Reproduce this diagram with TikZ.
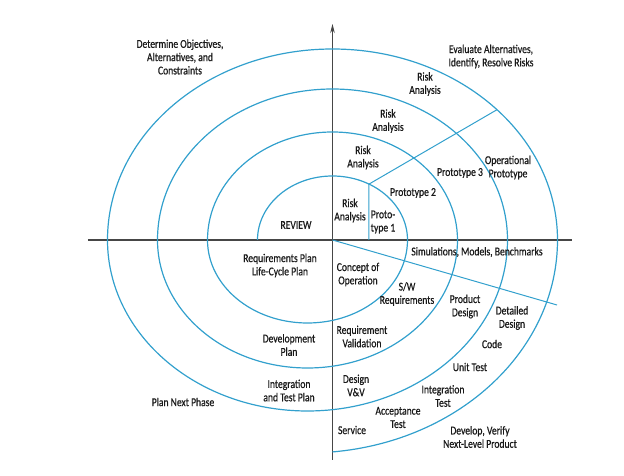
\documentclass[tikz,border=0pt]{standalone}
\usepackage{fontspec}
\setmainfont[FakeStretch=0.8,FakeBold=0.6]{Carlito}
\usetikzlibrary{arrows.meta}
\definecolor{spiralblue}{RGB}{50,160,205}
\definecolor{axisgray}{RGB}{70,70,70}
\definecolor{textgray}{RGB}{25,25,25}
\tikzset{
  spiral/.style={line width=1.2pt, color=spiralblue},
  axisline/.style={line width=1.4pt, color=axisgray},
  lbl/.style={align=center, inner sep=0pt, text=textgray, font=\fontsize{12}{13.3}\selectfont}
}
\begin{document}
\begin{tikzpicture}[x=1pt,y=1pt]
		%%%%% START %%%%%
		\useasboundingbox (-332.5,-236) rectangle (291.5,240);
		
		\coordinate (O) at (0,0);
		\coordinate (xl) at (-244.5,0);
		\coordinate (xr) at (239.5,0);
		\coordinate (yb) at (0,-220);
		\coordinate (yt) at (0,216);
		
		\draw[axisline] (xl) -- (xr);
		\draw[line width=0.8pt, color=axisgray, -{Stealth[length=9pt,width=4.5pt]}] (yb) -- (yt);
		
		% the spiral
		\draw[spiral] (-75,0) arc[start angle=180, end angle=0, x radius=75, y radius=64]
		  arc[start angle=0, end angle=-180, x radius=100, y radius=83]
		  arc[start angle=180, end angle=0, x radius=125, y radius=108]
		  arc[start angle=0, end angle=-180, x radius=150, y radius=128]
		  arc[start angle=180, end angle=0, x radius=175, y radius=151]
		  arc[start angle=0, end angle=-180, x radius=200, y radius=171]
		  arc[start angle=180, end angle=0, x radius=225, y radius=191]
		  arc[start angle=0, end angle=-84.26, x radius=250, y radius=213];
		
		\coordinate (p0) at (36.5,0);
		\coordinate (p1) at (36.5,55.9);
		\coordinate (p2) at (164.5,130.3);
		\coordinate (q1) at (224.5,-65);
		
		\draw[spiral, line width=1pt] (p0) -- (p1) -- (p2);
		\draw[spiral, line width=1pt] (O) -- (q1);
		
		% quadrant labels
		\node[lbl] (obj) at (-152.5,183) {Determine Objectives,\\Alternatives, and\\Constraints};
		\node[lbl] (eval) at (158.5,183.5) {Evaluate Alternatives,\\Identify, Resolve Risks};
		\node[lbl] (next) at (-149.5,-162) {Plan Next Phase};
		\node[lbl] (develop) at (147.5,-197) {Develop, Verify\\Next-Level Product};
		
		% risk analysis
		\node[lbl] (ra4) at (92.5,156) {Risk\\Analysis};
		\node[lbl] (ra3) at (55.5,119) {Risk\\Analysis};
		\node[lbl] (ra2) at (30.5,82.5) {Risk\\Analysis};
		\node[lbl] (ra1) at (17.5,29.5) {Risk\\Analysis};
		\node[lbl] (proto1) at (50.5,18) {Proto-\\type 1};
		\node[lbl] (proto2) at (80.5,47) {Prototype 2};
		\node[lbl] (proto3) at (127.5,67) {Prototype 3};
		\node[lbl] (oproto) at (175.5,72.5) {Operational\\Prototype};
		
		% planning
		\node[lbl] (review) at (-36.5,15) {REVIEW};
		\node[lbl] (reqplan) at (-52.5,-25.5) {Requirements Plan\\Life-Cycle Plan};
		\node[lbl] (devplan) at (-43.5,-105) {Development\\Plan};
		\node[lbl] (itplan) at (-43.5,-150.5) {Integration\\and Test Plan};
		
		% engineering
		\node[lbl] (sim) at (144.5,-12) {Simulations, Models, Benchmarks};
		\node[lbl] (concept) at (25.5,-34.5) {Concept of\\Operation};
		\node[lbl] (swreq) at (74.5,-54) {S/W\\Requirements};
		\node[lbl] (pdesign) at (132.5,-66.5) {Product\\Design};
		\node[lbl] (ddesign) at (179.5,-78) {Detailed\\Design};
		\node[lbl] (code) at (159.5,-104) {Code};
		\node[lbl] (utest) at (137.5,-127) {Unit Test};
		\node[lbl] (itest) at (110.5,-156) {Integration\\Test};
		\node[lbl] (reqval) at (29.5,-96.5) {Requirement\\Validation};
		\node[lbl] (dvv) at (23.5,-145.5) {Design\\V\&V};
		\node[lbl] (atest) at (65.5,-177.5) {Acceptance\\Test};
		\node[lbl] (service) at (19.5,-190) {Service};
		
		%%%%% END %%%%%
\end{tikzpicture}
\end{document}
